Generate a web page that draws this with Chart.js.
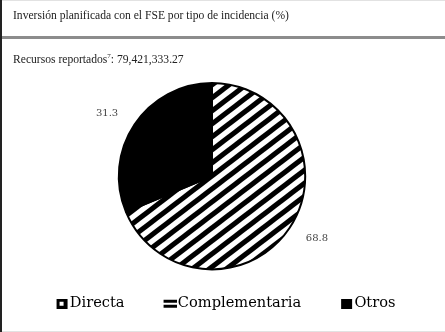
<!DOCTYPE html>
<html>
<head>
<meta charset="utf-8">
<script src="https://cdn.jsdelivr.net/npm/chart.js@4.4.0/dist/chart.umd.min.js"></script>
<style>
  html, body { margin: 0; padding: 0; background: #fff; }
  #wrap { position: relative; width: 445px; height: 332px; overflow: hidden; background: #fff; }
  #wrap canvas { position: absolute; left: 0; top: 0; }
  .lborder { position: absolute; left: 0; top: 0; width: 2px; height: 332px; background: #222; }
  .topline { position: absolute; left: 0; top: 0; width: 445px; height: 1px; background: #e2e2e2; }
  .botline { position: absolute; left: 0; top: 331px; width: 445px; height: 1px; background: #e2e2e2; }
  .sep { position: absolute; left: 2px; top: 36px; width: 443px; height: 3px; background: #8c8c8c; }
  .txt { position: absolute; left: 13px; font-family: 'Liberation Serif', serif; font-size: 11.6px; color: #222; white-space: nowrap; }
  .txt sup { font-size: 7px; }
</style>
</head>
<body>
<div id="wrap">
  <canvas id="pie" width="445" height="332"></canvas>
  <div class="topline"></div>
  <div class="botline"></div>
  <div class="lborder"></div>
  <div class="txt" id="title" style="top:9px"></div>
  <div class="sep"></div>
  <div class="txt" id="sub" style="top:52px"></div>
</div>
<script>
// datos del grafico
var categories = ['Directa', 'Complementaria', 'Otros'];
var shares = [0, 68.8, 31.3];
var titleText = 'Inversión planificada con el FSE por tipo de incidencia (%)';
var resourcesLabel = 'Recursos reportados';
var resourcesNote = '7';
var resourcesValue = '79,421,333.27';

document.getElementById('title').textContent = titleText;
document.getElementById('sub').innerHTML = resourcesLabel + '<sup>' + resourcesNote + '</sup>: ' + resourcesValue;

// rayado diagonal para Complementaria
function hatchPattern() {
    var c = document.createElement('canvas');
    c.width = 17; c.height = 13;
    var x = c.getContext('2d');
    x.fillStyle = '#fff';
    x.fillRect(0, 0, 17, 13);
    x.strokeStyle = '#000';
    x.lineWidth = 5;
    [-17, 0, 17].forEach(function (o) {
        x.beginPath();
        x.moveTo(o - 17, 26);
        x.lineTo(o + 34, -13);
        x.stroke();
    });
    return x.createPattern(c, 'repeat');
}

// marcadores de la leyenda (el marcador va a la derecha de la imagen)
function legendMark(kind) {
    var c = document.createElement('canvas');
    c.width = 34; c.height = 10;
    var x = c.getContext('2d');
    var ox = 22;
    x.fillStyle = '#000';
    if (kind === 'box') {
        x.fillRect(ox, 0, 11, 10);
        x.fillStyle = '#fff';
        x.fillRect(ox + 3, 3, 4, 4);
    } else if (kind === 'lines') {
        x.fillRect(ox - 1, 1, 13, 3);
        x.fillRect(ox - 1, 6, 13, 3);
    } else {
        x.fillRect(ox, 0, 11, 10);
    }
    return c;
}

var marks = [legendMark('box'), legendMark('lines'), legendMark('solid')];
var fills = ['#000', hatchPattern(), '#000'];

var sliceLabels = {
    id: 'sliceLabels',
    afterDatasetsDraw: function (chart) {
        var ctx = chart.ctx;
        var meta = chart.getDatasetMeta(0);
        ctx.save();
        ctx.font = '10px "DejaVu Serif"';
        ctx.fillStyle = '#444';
        ctx.textAlign = 'center';
        ctx.textBaseline = 'middle';
        meta.data.forEach(function (arc, i) {
            if (!shares[i]) return;
            var p = arc.getProps(['x', 'y', 'startAngle', 'endAngle', 'outerRadius']);
            var a = (p.startAngle + p.endAngle) / 2 - 0.05;
            var d = p.outerRadius + 29;
            ctx.fillText(shares[i].toFixed(1), p.x + Math.cos(a) * d, p.y + Math.sin(a) * d);
        });
        ctx.restore();
    }
};

// desplaza la leyenda un poco, como en el original
var legendShift = {
    id: 'legendShift',
    afterLayout: function (chart) {
        chart.legend.left += 6;
        chart.legend.right += 6;
        chart.legend.top += 2;
        chart.legend.bottom += 2;
    }
};

var ctx = document.getElementById('pie').getContext('2d');
var myChart = new Chart(ctx, {
    type: 'pie',
    data: {
        labels: categories,
        datasets: [
            {
                data: shares,
                backgroundColor: fills,
                borderColor: '#000',
                borderWidth: 2
            }
        ]
    },
    options: {
        responsive: false,
        animation: false,
        layout: {
            padding: { top: 82, bottom: 13, left: 2, right: 23 }
        },
        plugins: {
            tooltip: { enabled: false },
            legend: {
                position: 'bottom',
                labels: {
                    usePointStyle: true,
                    pointStyleWidth: 22,
                    padding: 24,
                    color: '#000',
                    font: { family: 'DejaVu Serif', size: 14.6 },
                    generateLabels: function (chart) {
                        return categories.map(function (c, i) {
                            return { text: c, pointStyle: marks[i], fillStyle: '#000', strokeStyle: '#000', lineWidth: 0, hidden: false, index: i };
                        });
                    }
                }
            }
        }
    },
    plugins: [sliceLabels, legendShift]
});
</script>
</body>
</html>
